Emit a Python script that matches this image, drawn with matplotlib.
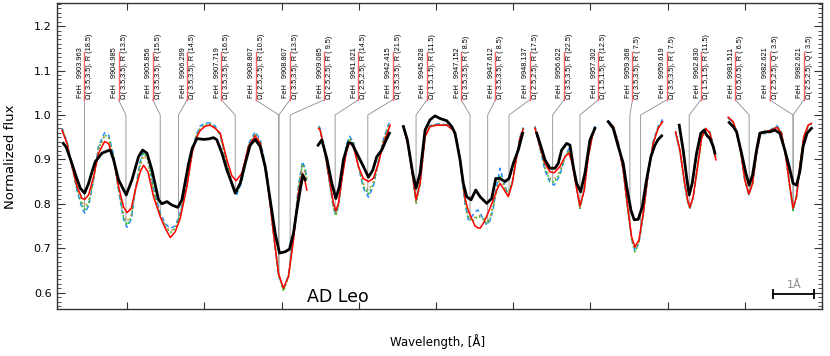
import numpy as np
import matplotlib
matplotlib.use("Agg")
import matplotlib.pyplot as plt
from matplotlib.ticker import MultipleLocator, FormatStrFormatter

# x is the stitched detector pixel index (spectral chunks put side by side)
model_x = [
    [15.5, 21.9, 28.4, 34.9, 41.4, 45.0, 49.9, 56.4, 62.8, 70.6, 75.8, 82.3, 88.7, 95.2, 99.6,
     105.2, 110.4, 116.8, 121.1, 126.8, 134.0, 142.7, 149.2, 155.7, 162.1, 168.6, 177.3, 184.1,
     189.3, 194.5, 201.0, 207.4, 213.9, 220.4, 229.1, 235.5, 241.1, 248.5, 257.0, 265.7, 272.2,
     280.8, 289.4, 295.9, 302.3, 308.8, 315.3, 321.8, 326.9, 330.4, 332.6],
    [347.9, 349.8, 356.3, 362.8, 367.1, 370.2, 373.5, 377.9, 383.5, 387.8, 392.9, 399.4, 405.9,
     412.4, 418.8, 425.3, 431.8, 438.3, 440.5],
    [457.7, 464.1, 469.8, 474.1, 479.3, 485.8, 492.2, 500.9, 513.9, 522.4, 527.2, 531.1, 537.5,
     541.8, 546.6, 550.5, 554.0, 557.0, 561.2, 565.6, 569.9, 574.2, 578.6, 582.9, 588.4, 593.6,
     598.8, 604.5, 608.7, 613.0],
    [628.2, 634.6, 641.1, 647.6, 653.1, 660.5, 667.0, 672.2, 676.4, 680.8, 686.4, 692.0, 697.2,
     702.3, 705.8],
    [723.0, 729.5, 736.0, 742.5, 748.2, 753.3, 757.6, 762.8, 768.4, 774.8, 781.3, 787.8, 793.5],
    [810.3, 815.9, 821.4, 825.8, 828.8, 833.1, 838.8, 843.9, 849.1, 854.7, 859.0, 862.5],
    [878.4, 884.9, 890.0, 895.7, 900.0, 905.2, 910.0, 915.2, 920.3, 925.9, 934.6, 941.8, 947.5,
     953.1, 958.3, 962.5, 966.9, 971.2, 976.4, 982.0, 986.3],
]
flux_red = [
    [0.966, 0.936, 0.884, 0.839, 0.812, 0.810, 0.820, 0.861, 0.914, 0.940, 0.936, 0.899, 0.839,
     0.793, 0.780, 0.790, 0.831, 0.872, 0.887, 0.872, 0.816, 0.771, 0.745, 0.724, 0.737, 0.767,
     0.839, 0.915, 0.948, 0.965, 0.975, 0.977, 0.970, 0.959, 0.899, 0.863, 0.852, 0.869, 0.929,
     0.953, 0.936, 0.861, 0.734, 0.643, 0.610, 0.636, 0.718, 0.824, 0.869, 0.850, 0.831],
    [0.970, 0.966, 0.914, 0.846, 0.801, 0.784, 0.801, 0.854, 0.914, 0.938, 0.929, 0.884, 0.857,
     0.850, 0.857, 0.891, 0.936, 0.966, 0.977],
    [0.974, 0.929, 0.861, 0.809, 0.846, 0.951, 0.974, 0.977, 0.977, 0.966, 0.940, 0.900, 0.812,
     0.785, 0.765, 0.750, 0.746, 0.745, 0.756, 0.772, 0.790, 0.809, 0.831, 0.846, 0.831, 0.816,
     0.846, 0.906, 0.947, 0.968],
    [0.970, 0.929, 0.891, 0.872, 0.870, 0.884, 0.906, 0.914, 0.891, 0.846, 0.795, 0.831, 0.906,
     0.951, 0.970],
    [0.985, 0.974, 0.936, 0.876, 0.793, 0.726, 0.703, 0.718, 0.779, 0.869, 0.936, 0.970, 0.985],
    [0.962, 0.921, 0.854, 0.809, 0.792, 0.816, 0.884, 0.947, 0.970, 0.959, 0.929, 0.899],
    [0.995, 0.985, 0.959, 0.906, 0.854, 0.822, 0.846, 0.914, 0.959, 0.961, 0.966, 0.972, 0.959,
     0.906, 0.839, 0.790, 0.816, 0.884, 0.951, 0.977, 0.981],
]
flux_blue = [
    [0.970, 0.940, 0.885, 0.830, 0.790, 0.779, 0.795, 0.855, 0.930, 0.960, 0.955, 0.910, 0.830,
     0.765, 0.747, 0.765, 0.830, 0.895, 0.921, 0.905, 0.835, 0.780, 0.755, 0.745, 0.750, 0.780,
     0.845, 0.920, 0.955, 0.975, 0.982, 0.982, 0.975, 0.955, 0.890, 0.840, 0.818, 0.850, 0.935,
     0.962, 0.945, 0.870, 0.735, 0.640, 0.607, 0.640, 0.730, 0.840, 0.895, 0.880, 0.860],
    [0.975, 0.970, 0.910, 0.840, 0.790, 0.778, 0.795, 0.855, 0.930, 0.952, 0.940, 0.885, 0.835,
     0.815, 0.840, 0.895, 0.945, 0.978, 0.985],
    [0.976, 0.930, 0.860, 0.805, 0.845, 0.952, 0.976, 0.980, 0.978, 0.967, 0.940, 0.895, 0.800,
     0.764, 0.772, 0.782, 0.786, 0.780, 0.765, 0.752, 0.762, 0.790, 0.840, 0.880, 0.845, 0.818,
     0.850, 0.910, 0.950, 0.972],
    [0.975, 0.925, 0.875, 0.848, 0.842, 0.865, 0.905, 0.925, 0.900, 0.850, 0.790, 0.835, 0.910,
     0.955, 0.975],
    [0.987, 0.976, 0.940, 0.875, 0.790, 0.720, 0.693, 0.712, 0.775, 0.870, 0.940, 0.975, 0.990],
    [0.960, 0.918, 0.850, 0.805, 0.790, 0.815, 0.885, 0.950, 0.966, 0.962, 0.932, 0.902],
    [0.993, 0.983, 0.958, 0.905, 0.853, 0.820, 0.845, 0.912, 0.955, 0.958, 0.968, 0.976, 0.960,
     0.905, 0.837, 0.786, 0.815, 0.883, 0.950, 0.975, 0.980],
]
flux_green = [
    [0.968, 0.938, 0.885, 0.833, 0.797, 0.787, 0.800, 0.855, 0.925, 0.955, 0.950, 0.905, 0.832,
     0.770, 0.752, 0.770, 0.830, 0.890, 0.915, 0.900, 0.830, 0.775, 0.750, 0.735, 0.745, 0.775,
     0.840, 0.917, 0.952, 0.970, 0.978, 0.980, 0.972, 0.955, 0.890, 0.845, 0.822, 0.850, 0.930,
     0.958, 0.940, 0.865, 0.735, 0.640, 0.603, 0.635, 0.725, 0.835, 0.890, 0.875, 0.855],
    [0.972, 0.968, 0.912, 0.840, 0.790, 0.773, 0.793, 0.855, 0.925, 0.948, 0.937, 0.885, 0.840,
     0.822, 0.845, 0.893, 0.942, 0.975, 0.982],
    [0.975, 0.930, 0.860, 0.800, 0.845, 0.952, 0.975, 0.979, 0.978, 0.966, 0.940, 0.897, 0.805,
     0.768, 0.760, 0.765, 0.772, 0.770, 0.765, 0.755, 0.765, 0.795, 0.830, 0.865, 0.840, 0.820,
     0.850, 0.908, 0.948, 0.970],
    [0.973, 0.927, 0.880, 0.853, 0.848, 0.870, 0.905, 0.920, 0.897, 0.848, 0.790, 0.833, 0.908,
     0.953, 0.973],
    [0.986, 0.975, 0.938, 0.875, 0.790, 0.720, 0.692, 0.713, 0.776, 0.869, 0.938, 0.972, 0.987],
    [0.961, 0.919, 0.851, 0.806, 0.789, 0.815, 0.884, 0.948, 0.967, 0.961, 0.931, 0.901],
    [0.994, 0.984, 0.958, 0.905, 0.853, 0.821, 0.845, 0.913, 0.957, 0.960, 0.967, 0.974, 0.960,
     0.905, 0.838, 0.785, 0.815, 0.883, 0.950, 0.976, 0.980],
]
flux_orange = [
    [0.967, 0.937, 0.884, 0.836, 0.803, 0.795, 0.805, 0.857, 0.922, 0.952, 0.948, 0.903, 0.835,
     0.778, 0.760, 0.775, 0.830, 0.885, 0.910, 0.895, 0.825, 0.775, 0.750, 0.738, 0.745, 0.775,
     0.840, 0.916, 0.950, 0.968, 0.977, 0.978, 0.970, 0.955, 0.890, 0.848, 0.828, 0.855, 0.930,
     0.956, 0.940, 0.865, 0.735, 0.640, 0.606, 0.638, 0.725, 0.835, 0.885, 0.870, 0.850],
    [0.970, 0.967, 0.913, 0.843, 0.795, 0.778, 0.797, 0.855, 0.920, 0.945, 0.935, 0.885, 0.845,
     0.830, 0.850, 0.892, 0.940, 0.970, 0.980],
    [0.975, 0.930, 0.860, 0.805, 0.845, 0.952, 0.975, 0.978, 0.977, 0.966, 0.940, 0.898, 0.810,
     0.772, 0.765, 0.770, 0.775, 0.773, 0.770, 0.760, 0.768, 0.797, 0.830, 0.860, 0.838, 0.820,
     0.850, 0.908, 0.948, 0.970],
    [0.972, 0.928, 0.883, 0.858, 0.855, 0.874, 0.905, 0.918, 0.895, 0.847, 0.792, 0.832, 0.907,
     0.952, 0.972],
    [0.985, 0.975, 0.937, 0.876, 0.792, 0.723, 0.697, 0.715, 0.778, 0.869, 0.937, 0.971, 0.986],
    [0.961, 0.920, 0.852, 0.807, 0.790, 0.815, 0.884, 0.948, 0.968, 0.960, 0.930, 0.900],
    [0.994, 0.984, 0.959, 0.906, 0.854, 0.822, 0.846, 0.913, 0.958, 0.960, 0.966, 0.973, 0.959,
     0.906, 0.839, 0.788, 0.816, 0.884, 0.951, 0.976, 0.980],
]

obs_x = [
    [17.2, 21.0, 27.5, 34.0, 39.2, 44.7, 49.9, 54.3, 58.6, 67.2, 75.8, 78.0, 82.3, 88.7, 98.7,
     106.1, 114.6, 119.8, 125.5, 132.0, 140.5, 144.9, 151.4, 157.9, 165.6, 170.8, 179.4, 184.1,
     190.2, 198.8, 205.2, 211.7, 216.1, 222.6, 229.1, 235.5, 239.8, 246.3, 252.8, 259.2, 265.7,
     272.2, 278.6, 285.1, 291.6, 297.2, 304.5, 310.1, 315.3, 319.7, 324.0, 327.4, 330.4],
    [347.2, 352.0, 358.5, 365.0, 370.2, 374.8, 380.0, 386.5, 390.9, 397.3, 405.9, 412.4, 418.1,
     423.2, 429.7, 436.2, 439.6],
    [457.7, 462.8, 469.8, 474.1, 479.3, 485.8, 492.2, 498.7, 505.2, 513.9, 520.3, 524.6, 531.1,
     535.3, 539.7, 545.3, 551.4, 557.0, 565.6, 572.1, 577.3, 582.9, 589.3, 594.5, 600.1, 606.5,
     612.2],
    [630.4, 635.9, 641.1, 647.6, 654.0, 658.3, 662.7, 669.2, 673.5, 677.7, 682.1, 687.3, 692.9,
     699.4, 705.8],
    [723.0, 729.5, 736.0, 742.5, 746.9, 752.4, 756.7, 761.9, 767.1, 772.7, 778.3, 783.5, 787.8,
     792.2],
    [815.0, 820.1, 824.5, 827.9, 831.8, 837.5, 843.0, 847.3, 850.4, 854.7, 859.0, 861.2],
    [879.7, 884.9, 889.3, 895.7, 901.3, 905.6, 910.0, 915.2, 919.4, 925.9, 932.4, 938.8, 945.3,
     951.8, 957.4, 962.5, 966.9, 971.2, 975.5, 980.6, 986.3],
]
obs_flux = [
    [0.936, 0.927, 0.895, 0.860, 0.835, 0.824, 0.846, 0.872, 0.895, 0.914, 0.920, 0.921, 0.899,
     0.854, 0.820, 0.854, 0.906, 0.921, 0.914, 0.876, 0.809, 0.800, 0.805, 0.797, 0.792, 0.809,
     0.890, 0.925, 0.947, 0.945, 0.946, 0.949, 0.944, 0.914, 0.876, 0.846, 0.824, 0.846, 0.891,
     0.932, 0.945, 0.929, 0.884, 0.809, 0.734, 0.689, 0.692, 0.698, 0.734, 0.786, 0.831, 0.865,
     0.854],
    [0.932, 0.944, 0.902, 0.846, 0.812, 0.839, 0.899, 0.938, 0.936, 0.914, 0.884, 0.860, 0.876,
     0.906, 0.921, 0.947, 0.959],
    [0.974, 0.944, 0.869, 0.835, 0.869, 0.966, 0.989, 0.998, 0.992, 0.987, 0.974, 0.959, 0.899,
     0.846, 0.816, 0.809, 0.831, 0.816, 0.801, 0.812, 0.857, 0.857, 0.850, 0.857, 0.891, 0.921,
     0.959],
    [0.959, 0.929, 0.899, 0.880, 0.880, 0.891, 0.921, 0.936, 0.932, 0.884, 0.846, 0.827, 0.869,
     0.944, 0.970],
    [0.985, 0.970, 0.929, 0.891, 0.839, 0.786, 0.764, 0.765, 0.793, 0.854, 0.906, 0.932, 0.945,
     0.953],
    [0.977, 0.921, 0.861, 0.820, 0.846, 0.914, 0.959, 0.966, 0.955, 0.947, 0.929, 0.914],
    [0.983, 0.974, 0.962, 0.914, 0.869, 0.842, 0.865, 0.921, 0.959, 0.962, 0.962, 0.966, 0.959,
     0.921, 0.884, 0.846, 0.842, 0.872, 0.929, 0.959, 0.970],
]

# FeH line identifications
line_wl = ["9903.963", "9904.985", "9905.856", "9906.299", "9907.719", "9908.807", "9908.807",
           "9909.085", "9941.621", "9942.415", "9945.828", "9947.152", "9947.612", "9948.137",
           "9956.622", "9957.302", "9959.368", "9959.619", "9962.830", "9981.511", "9982.621",
           "9982.621"]
line_omega = ["3.5,3.5", "3.5,3.5", "3.5,3.5", "3.5,3.5", "3.5,3.5", "2.5,2.5", "3.5,3.5",
              "2.5,2.5", "2.5,2.5", "3.5,3.5", "1.5,1.5", "3.5,3.5", "3.5,3.5", "2.5,2.5",
              "3.5,3.5", "1.5,1.5", "3.5,3.5", "3.5,3.5", "1.5,1.5", "0.5,0.5", "2.5,2.5",
              "2.5,2.5"]
line_branch = ["R (18.5)", "R (13.5)", "R (15.5)", "R (14.5)", "R (16.5)", "R (10.5)",
               "R (13.5)", "R ( 9.5)", "R (14.5)", "R (21.5)", "R (11.5)", "R ( 8.5)",
               "R ( 8.5)", "R (17.5)", "R (22.5)", "R (12.5)", "R ( 7.5)", "R ( 7.5)",
               "R (11.5)", "R ( 6.5)", "Q ( 3.5)", "Q ( 3.5)"]
line_pos = [44.3, 98.3, 142.7, 166.4, 239.8, 296.4, 296.4, 311.0, 369.3, 411.6, 474.1, 544.0,
            566.9, 594.5, 651.1, 686.4, 751.1, 765.0, 827.9, 905.6, 962.5, 962.5]

PIX_PER_ANGSTROM = 53.0

fig = plt.figure(figsize=(8.3, 3.56), dpi=100)
ax = fig.add_axes([0.0687, 0.1312, 0.9217, 0.859])

model_series = [
    (flux_blue, dict(color="#2a8cff", lw=1.1, ls=(0, (3, 2)))),
    (flux_green, dict(color="#1fc01f", lw=1.2, ls=(0, (1, 1.5)))),
    (flux_orange, dict(color="#c0903a", lw=1.2, ls=(0, (1, 2.5)))),
    (flux_red, dict(color="#ff0000", lw=1.1, ls="-")),
]
for fluxes, style in model_series:
    for xs, ys in zip(model_x, fluxes):
        ax.plot(xs, ys, zorder=3, **style)
for xs, ys in zip(obs_x, obs_flux):
    ax.plot(xs, ys, color="black", lw=2.0, zorder=4, solid_joinstyle="round")

# line labels spread evenly across the top with leaders to the line centres
label_x = np.linspace(44.3, 976.4, len(line_wl))
all_series = [obs_flux, flux_red, flux_blue, flux_green, flux_orange]
all_x = [obs_x, model_x, model_x, model_x, model_x]
for lx, pos, wl, om, br in zip(label_x, line_pos, line_wl, line_omega, line_branch):
    depth = []
    for xs_list, fl_list in zip(all_x, all_series):
        for xs, ys in zip(xs_list, fl_list):
            if xs[0] <= pos <= xs[-1]:
                depth.append(np.interp(pos, xs, ys))
    bottom = min(depth) if depth else 0.85
    ax.plot([lx, pos, pos], [1.034, 1.0, bottom], color="#8c8c8c", lw=0.6, zorder=2)
    ax.plot([lx, lx], [1.034, 1.1425], color="#ff6464", lw=1.0, zorder=2)
    ax.text(lx - 5.2, 1.039, "FeH   " + wl, rotation=90, ha="center", va="bottom",
            fontsize=5.3, family="Liberation Sans")
    ax.text(lx + 7.1, 1.036, "\u03a9( " + om + "), " + br, rotation=90, ha="center",
            va="bottom", fontsize=5.3, family="Liberation Sans")

ax.text(333, 0.579, "AD Leo", fontsize=12.5, ha="left", va="baseline")

# 1 A scale bar
bar_x0 = 937.0
ax.plot([bar_x0, bar_x0 + PIX_PER_ANGSTROM], [0.598, 0.598], color="black", lw=1.3,
        marker="|", markersize=7, mew=1.3, zorder=5)
ax.text(bar_x0 + PIX_PER_ANGSTROM / 2, 0.607, "1\u00c5", color="#888888", fontsize=8,
        ha="center", va="bottom")

ax.set_xlim(9, 1000)
ax.set_ylim(0.5625, 1.251)
ax.xaxis.set_major_locator(MultipleLocator(100))
ax.yaxis.set_major_locator(MultipleLocator(0.1))
ax.yaxis.set_minor_locator(MultipleLocator(0.01))
ax.yaxis.set_major_formatter(FormatStrFormatter("%.1f"))
ax.tick_params(axis="x", which="both", direction="in", top=True, bottom=True,
               labelbottom=False, length=5, width=0.8, color="#333333")
ax.tick_params(axis="y", which="major", direction="in", left=True, right=True,
               length=6, width=0.8, labelsize=8, color="#333333", pad=4)
ax.tick_params(axis="y", which="minor", direction="in", left=True, right=True,
               length=3, width=0.6, color="#333333")
for sp in ax.spines.values():
    sp.set_linewidth(1.0)
    sp.set_color("#333333")

fig.text(0.013, 0.56, "Normalized flux", rotation=90, ha="center", va="center", fontsize=9.5)
fig.text(0.527, 0.042, "Wavelength, [\u00c5]", ha="center", va="center", fontsize=8.5)

fig.savefig("out.png", dpi=100)
